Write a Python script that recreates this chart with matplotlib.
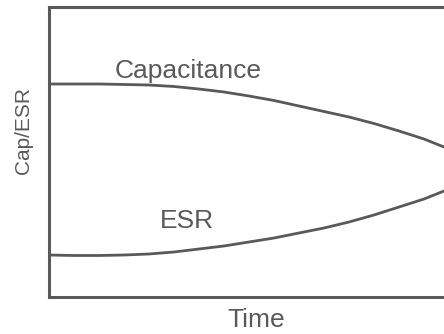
import matplotlib
matplotlib.use("Agg")
import matplotlib.pyplot as plt

# values (arbitrary units)
time = [0, 0.625, 1.25, 1.875, 2.5, 3.125, 3.75, 4.375, 5.0, 5.625, 6.25,
        6.875, 7.5, 8.125, 8.75, 9.375, 10.0, 10.5]
capacitance = [7.345, 7.345, 7.345, 7.328, 7.310, 7.259, 7.172, 7.069, 6.931,
               6.776, 6.586, 6.397, 6.207, 5.983, 5.724, 5.448, 5.103, 4.828]
esr = [1.448, 1.431, 1.431, 1.448, 1.483, 1.552, 1.655, 1.759, 1.897, 2.034,
       2.207, 2.379, 2.586, 2.828, 3.103, 3.379, 3.724, 4.069]

grey = "#595959"
plt.rcParams['font.family'] = ['Liberation Sans', 'DejaVu Sans']

fig = plt.figure(figsize=(4.44, 3.34), dpi=100)
# axes runs past the right edge of the figure, like the cropped original
ax = fig.add_axes([49/444, 37/334, 420/444, 290/334])
ax.plot(time, capacitance, color=grey, lw=2.0, solid_capstyle='butt')
ax.plot(time, esr, color=grey, lw=2.0, solid_capstyle='butt')
ax.set_xlim(0, 10.5)
ax.set_ylim(0, 10)
ax.set_xticks([])
ax.set_yticks([])
for s in ax.spines.values():
    s.set_color(grey)
    s.set_linewidth(2.2)
ax.spines['right'].set_visible(False)

ax.text(3.475, 7.55, "Capacitance", color=grey, fontsize=19, ha='center', va='baseline')
ax.text(3.44, 2.38, "ESR", color=grey, fontsize=19, ha='center', va='baseline')
fig.text(256/444, 1 - 327/334, "Time", color=grey, fontsize=19, ha='center', va='baseline')
fig.text(23/444, 1 - 130/334, "Cap/ESR", color=grey, fontsize=15,
         rotation=90, ha='center', va='center')

fig.savefig("out.png", dpi=100)
